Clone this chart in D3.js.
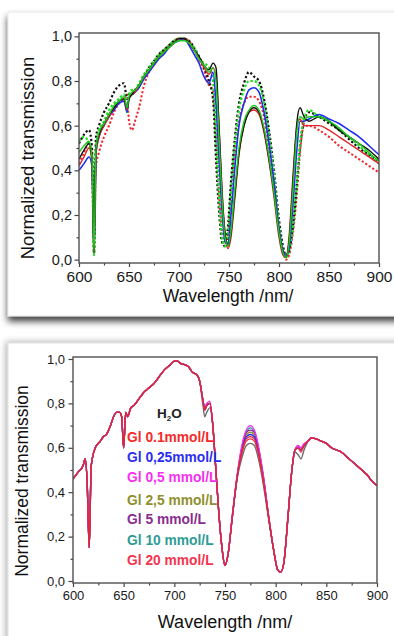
<!DOCTYPE html>
<html>
<head>
<meta charset="utf-8">
<script src="https://cdn.jsdelivr.net/npm/d3@7"></script>
<style>
  body { margin: 0; background: #fff; }
  svg { display: block; font-family: "Liberation Sans", Arial, sans-serif; }
</style>
</head>
<body>
<svg id="chart" width="394" height="636"></svg>
<script>
// ---- axis ticks ----
const xTicks = [600, 650, 700, 750, 800, 850, 900];
const xMinorTicks = [625, 675, 725, 775, 825, 875];
const yTicks = [0, 0.2, 0.4, 0.6, 0.8, 1.0];
const yTickLabels = ["0,0", "0,2", "0,4", "0,6", "0,8", "1,0"];
const yMinorTicks = [0.1, 0.3, 0.5, 0.7, 0.9];
const xTitle = "Wavelength /nm/";
const yTitle = "Normalized transmission";

// ---- upper panel: wavelengths (nm) and normalized transmission ----
const wlTop = [
  600, 605, 610, 613, 615, 617, 620, 625, 630, 635,
  640, 645, 648, 650, 653, 656, 660, 665, 670, 675,
  680, 685, 690, 695, 700, 705, 710, 715, 720, 725,
  730, 734, 737, 740, 743, 746, 749, 752, 756, 760,
  765, 770, 775, 780, 785, 790, 795, 800, 804, 807,
  810, 814, 818, 821, 825, 830, 840, 850, 860, 870,
  880, 890, 900
];
const topBlackSolid = [
  .45, .49, .52, .45, .03, .50, .56, .61, .65, .68,
  .71, .72, .68, .72, .74, .76, .78, .82, .85, .88,
  .91, .93, .95, .97, .99, .99, .97, .94, .91, .87,
  .85, .88, .86, .60, .30, .12, .06, .12, .30, .48,
  .60, .66, .68, .66, .58, .45, .30, .12, .03, .01,
  .08, .35, .62, .68, .64, .62, .64, .62, .58, .55,
  .52, .49, .45
];
const topBlackDotted = [
  .52, .56, .58, .50, .03, .55, .60, .66, .70, .75,
  .78, .79, .72, .74, .74, .76, .78, .82, .86, .89,
  .92, .94, .96, .98, .99, .99, .98, .95, .91, .86,
  .80, .72, .45, .22, .08, .06, .15, .35, .55, .70,
  .79, .84, .82, .80, .72, .58, .40, .18, .06, .02,
  .04, .15, .35, .50, .62, .66, .64, .61, .58, .54,
  .50, .47, .44
];
const topGreenDashed = [
  .53, .55, .52, .45, .02, .50, .58, .62, .67, .70,
  .72, .74, .66, .74, .76, .76, .79, .83, .86, .89,
  .92, .94, .96, .98, .99, .99, .97, .95, .90, .88,
  .86, .80, .55, .28, .10, .06, .12, .30, .52, .67,
  .76, .80, .80, .78, .70, .56, .38, .15, .04, .01,
  .04, .15, .35, .52, .63, .67, .64, .62, .58, .55,
  .51, .47, .43
];
const topBlueSolid = [
  .40, .43, .46, .42, .03, .48, .55, .60, .64, .67,
  .70, .71, .66, .72, .74, .75, .77, .81, .84, .87,
  .90, .92, .95, .97, .98, .99, .96, .92, .88, .82,
  .79, .84, .70, .45, .22, .08, .07, .20, .42, .60,
  .70, .76, .77, .75, .66, .52, .35, .14, .04, .02,
  .05, .25, .50, .62, .62, .63, .65, .63, .61, .58,
  .55, .51, .47
];
const topRedDotted = [
  .43, .48, .52, .47, .03, .42, .48, .55, .60, .66,
  .70, .72, .74, .62, .58, .62, .68, .78, .84, .88,
  .91, .94, .96, .98, .99, .99, .98, .94, .90, .85,
  .78, .76, .55, .30, .12, .06, .10, .28, .48, .62,
  .70, .73, .73, .71, .64, .50, .34, .14, .04, .00,
  .02, .12, .30, .48, .60, .60, .58, .55, .51, .48,
  .45, .42, .39
];
const topGreenSolid = [
  .48, .51, .53, .46, .02, .50, .57, .61, .65, .69,
  .71, .73, .68, .73, .75, .76, .78, .82, .85, .88,
  .91, .93, .95, .97, .98, .98, .97, .94, .90, .87,
  .84, .86, .80, .55, .28, .10, .06, .13, .32, .50,
  .62, .67, .69, .67, .59, .46, .30, .12, .03, .01,
  .07, .32, .58, .64, .63, .64, .64, .62, .59, .55,
  .52, .48, .44
];
const topRedSolid = [
  .42, .46, .50, .44, .03, .48, .55, .60, .64, .68,
  .71, .72, .67, .72, .74, .75, .78, .82, .85, .88,
  .91, .93, .95, .97, .99, .99, .97, .94, .90, .86,
  .83, .86, .82, .60, .32, .12, .05, .10, .28, .47,
  .60, .66, .67, .65, .57, .44, .28, .10, .02, .01,
  .10, .38, .60, .63, .60, .60, .60, .58, .55, .52,
  .49, .46, .43
];

// ---- lower panel: water and glucose solutions ----
const wlBottom = [
  600, 605, 610, 612, 614, 616, 618, 622, 627, 630,
  633, 637, 640, 643, 646, 648, 650, 652, 654, 657,
  660, 665, 670, 675, 680, 685, 690, 695, 700, 703,
  706, 710, 714, 718, 722, 725, 728, 730, 732, 735,
  738, 741, 744, 747, 750, 753, 757, 762, 767, 771,
  775, 779, 783, 788, 793, 798, 802, 805, 808, 812,
  816, 819, 822, 825, 828, 832, 835, 840, 845, 850,
  855, 860, 865, 870, 875, 880, 885, 890, 895, 900
];
const water = [
  .46, .49, .52, .55, .44, .15, .52, .60, .63, .65,
  .66, .70, .74, .76, .76, .74, .60, .76, .74, .78,
  .79, .82, .85, .87, .89, .92, .95, .97, .99, .99,
  .98, .975, .965, .94, .93, .90, .80, .74, .76, .78,
  .70, .50, .30, .15, .07, .12, .28, .46, .56, .61,
  .62, .61, .55, .43, .28, .14, .05, .04, .08, .28,
  .50, .58, .57, .55, .59, .63, .645, .64, .63, .62,
  .60, .59, .58, .56, .54, .52, .50, .48, .45, .43
];
const gl01 = [
  .46, .49, .52, .55, .44, .15, .52, .60, .63, .65,
  .66, .70, .74, .76, .76, .74, .60, .76, .74, .78,
  .79, .82, .85, .87, .89, .92, .95, .97, .99, .99,
  .98, .975, .965, .94, .93, .90, .82, .77, .79, .80,
  .70, .50, .30, .15, .07, .12, .28, .47, .59, .64,
  .65, .64, .58, .45, .29, .14, .05, .04, .08, .28,
  .50, .59, .60, .59, .61, .63, .645, .64, .63, .62,
  .60, .59, .58, .56, .54, .52, .50, .48, .45, .43
];
const gl025 = [
  .46, .49, .52, .55, .44, .15, .52, .60, .63, .65,
  .66, .70, .74, .76, .76, .74, .60, .76, .74, .78,
  .79, .82, .85, .87, .89, .92, .95, .97, .99, .99,
  .98, .975, .965, .94, .93, .90, .82, .78, .79, .80,
  .70, .50, .30, .15, .07, .12, .28, .47, .59, .65,
  .66, .65, .59, .46, .29, .14, .05, .04, .08, .28,
  .50, .59, .60, .59, .61, .63, .645, .64, .63, .62,
  .60, .59, .58, .56, .54, .52, .50, .48, .45, .43
];
const gl05 = [
  .46, .49, .52, .55, .44, .15, .52, .60, .63, .65,
  .66, .70, .74, .76, .76, .74, .60, .76, .74, .78,
  .79, .82, .85, .87, .89, .92, .95, .97, .99, .99,
  .98, .975, .965, .94, .93, .90, .82, .78, .80, .81,
  .70, .50, .30, .15, .07, .12, .29, .48, .62, .68,
  .70, .68, .61, .47, .30, .14, .05, .04, .08, .28,
  .50, .59, .61, .60, .62, .63, .645, .64, .63, .62,
  .60, .59, .58, .56, .54, .52, .50, .48, .45, .43
];
const gl25 = [
  .46, .49, .52, .55, .44, .15, .52, .60, .63, .65,
  .66, .70, .74, .76, .76, .74, .60, .76, .74, .78,
  .79, .82, .85, .87, .89, .92, .95, .97, .99, .99,
  .98, .975, .965, .94, .93, .90, .82, .77, .79, .80,
  .70, .50, .30, .15, .07, .12, .28, .47, .60, .66,
  .67, .66, .59, .46, .29, .14, .05, .04, .08, .28,
  .50, .59, .60, .59, .61, .63, .645, .64, .63, .62,
  .60, .59, .58, .56, .54, .52, .50, .48, .45, .43
];
const gl5 = [
  .46, .49, .52, .55, .44, .15, .52, .60, .63, .65,
  .66, .70, .74, .76, .76, .74, .60, .76, .74, .78,
  .79, .82, .85, .87, .89, .92, .95, .97, .99, .99,
  .98, .975, .965, .94, .93, .90, .82, .78, .79, .80,
  .70, .50, .30, .15, .07, .12, .28, .47, .61, .67,
  .68, .67, .60, .46, .29, .14, .05, .04, .08, .28,
  .50, .59, .61, .60, .61, .63, .645, .64, .63, .62,
  .60, .59, .58, .56, .54, .52, .50, .48, .45, .43
];
const gl10 = [
  .46, .49, .52, .55, .44, .15, .52, .60, .63, .65,
  .66, .70, .74, .76, .76, .74, .60, .76, .74, .78,
  .79, .82, .85, .87, .89, .92, .95, .97, .99, .99,
  .98, .975, .965, .94, .93, .90, .82, .78, .80, .80,
  .70, .50, .30, .15, .07, .12, .28, .47, .61, .67,
  .69, .67, .60, .47, .29, .14, .05, .04, .08, .28,
  .50, .59, .60, .59, .61, .63, .645, .64, .63, .62,
  .60, .59, .58, .56, .54, .52, .50, .48, .45, .43
];
const gl20 = [
  .46, .49, .52, .55, .44, .15, .52, .60, .63, .65,
  .66, .70, .74, .76, .76, .74, .60, .76, .74, .78,
  .79, .82, .85, .87, .89, .92, .95, .97, .99, .99,
  .98, .975, .965, .94, .93, .90, .82, .77, .79, .80,
  .70, .50, .30, .15, .07, .12, .28, .47, .58, .63,
  .64, .63, .57, .44, .29, .14, .05, .04, .08, .28,
  .50, .59, .60, .58, .61, .63, .645, .64, .63, .62,
  .60, .59, .58, .56, .54, .52, .50, .48, .45, .43
];
const legendLabels = [
  "Gl 0.1mmol/L", "Gl 0,25mmol/L", "Gl 0,5 mmol/L", "Gl 2,5 mmol/L",
  "Gl 5 mmol/L", "Gl 10 mmol/L", "Gl 20 mmol/L"
];
const legendColors = ["#f52a2a", "#2a2ef0", "#f530f0", "#8f8f2e", "#8a2c92", "#2e9c96", "#f5334f"];

const svg = d3.select("#chart");

// ---- cards with drop shadows ----
const defs = svg.append("defs");
const shadow1 = defs.append("filter").attr("id", "shadowTop")
  .attr("x", "-10%").attr("y", "-10%").attr("width", "130%").attr("height", "130%");
shadow1.append("feDropShadow").attr("dx", 0).attr("dy", 5).attr("stdDeviation", 3.5)
  .attr("flood-color", "#000").attr("flood-opacity", 0.75);
const shadow2 = defs.append("filter").attr("id", "shadowBottom")
  .attr("x", "-10%").attr("y", "-10%").attr("width", "130%").attr("height", "130%");
shadow2.append("feDropShadow").attr("dx", -2).attr("dy", -1).attr("stdDeviation", 3)
  .attr("flood-color", "#000").attr("flood-opacity", 0.3);

svg.append("rect").attr("x", 8).attr("y", 12).attr("width", 420).attr("height", 304)
  .attr("fill", "#fff").attr("stroke", "#e2e2e2").attr("stroke-width", 0.8)
  .attr("filter", "url(#shadowTop)");
svg.append("rect").attr("x", 8).attr("y", 343).attr("width", 420).attr("height", 320)
  .attr("fill", "#fff").attr("stroke", "#d8d8d8").attr("stroke-width", 0.8)
  .attr("filter", "url(#shadowBottom)");

function drawPanel(p) {
  const g = svg.append("g");
  const x = d3.scaleLinear().domain([600, 900]).range([p.left, p.right]);
  const y = d3.scaleLinear().domain(p.yDomain).range([p.bottom, p.top]);

  // spectra, clipped to the frame
  const clipId = "clip" + p.id;
  defs.append("clipPath").attr("id", clipId).append("rect")
    .attr("x", p.left).attr("y", p.top - 2)
    .attr("width", p.right - p.left).attr("height", p.bottom - p.top + 2);
  const lines = g.append("g").attr("clip-path", `url(#${clipId})`);
  p.series.forEach(s => {
    const line = d3.line()
      .x((d, i) => x(p.wl[i]))
      .y(d => y(d))
      .curve(d3.curveMonotoneX);
    lines.append("path")
      .attr("d", line(s.values))
      .attr("fill", "none")
      .attr("stroke", s.color)
      .attr("stroke-width", s.width)
      .attr("stroke-dasharray", s.dash || null)
      .attr("stroke-linejoin", "round");
  });

  // axes
  const xAxis = g.append("g").attr("transform", `translate(0,${p.bottom})`)
    .call(d3.axisBottom(x).tickValues(xTicks).tickSize(4).tickSizeOuter(0)
      .tickPadding(p.xPad).tickFormat(d3.format("d")));
  const xMinor = g.append("g").attr("transform", `translate(0,${p.bottom})`)
    .call(d3.axisBottom(x).tickValues(xMinorTicks).tickSize(2.5).tickSizeOuter(0).tickFormat(""));
  const yAxis = g.append("g").attr("transform", `translate(${p.left},0)`)
    .call(d3.axisLeft(y).tickValues(yTicks).tickSize(4.5).tickSizeOuter(0)
      .tickPadding(p.yPad).tickFormat((d, i) => yTickLabels[i]));
  const yMinor = g.append("g").attr("transform", `translate(${p.left},0)`)
    .call(d3.axisLeft(y).tickValues(yMinorTicks).tickSize(2.5).tickSizeOuter(0).tickFormat(""));
  [xAxis, xMinor, yAxis, yMinor].forEach(a => {
    a.select(".domain").remove();
    a.selectAll("line").attr("stroke", "#444").attr("stroke-width", 1.2);
  });
  xAxis.selectAll("text").attr("font-size", p.xTickSize).attr("fill", "#1a1a1a");
  yAxis.selectAll("text").attr("font-size", p.yTickSize).attr("fill", "#1a1a1a");

  // frame
  g.append("rect").attr("x", p.left).attr("y", p.top)
    .attr("width", p.right - p.left).attr("height", p.bottom - p.top)
    .attr("fill", "none").attr("stroke", "#505050").attr("stroke-width", 1.4);

  // titles
  g.append("text").attr("x", (p.left + p.right) / 2 + p.xTitleDx).attr("y", p.xTitleY)
    .attr("text-anchor", "middle").attr("font-size", p.xTitleSize).attr("fill", "#111")
    .text(xTitle);
  g.append("text")
    .attr("transform", `translate(${p.yTitleX},${p.yTitleY}) rotate(-90)`)
    .attr("text-anchor", "middle").attr("font-size", p.yTitleSize).attr("fill", "#111")
    .text(yTitle);
  return { g, x, y };
}

// upper panel
drawPanel({
  id: "Top", left: 79, right: 379, top: 33, bottom: 263,
  yDomain: [-0.015, 1.015], wl: wlTop,
  xPad: 3.5, yPad: 2.5, xTickSize: 15.5, yTickSize: 14.5,
  xTitleY: 302, xTitleDx: -1, xTitleSize: 17.5,
  yTitleX: 34, yTitleY: 158, yTitleSize: 18.5,
  series: [
    { values: topRedDotted, color: "#f0282c", width: 2, dash: "2.2,2" },
    { values: topBlackDotted, color: "#111", width: 2.2, dash: "2.2,2.2" },
    { values: topGreenDashed, color: "#22e022", width: 2.2, dash: "2.5,2" },
    { values: topBlueSolid, color: "#1f2ff0", width: 1.6 },
    { values: topRedSolid, color: "#e0242a", width: 1.4 },
    { values: topBlackSolid, color: "#111", width: 1.4 },
    { values: topGreenSolid, color: "#1fc81f", width: 1.4 }
  ]
});

// lower panel
const lower = drawPanel({
  id: "Bottom", left: 73, right: 377, top: 357, bottom: 583,
  yDomain: [-0.009, 1.009], wl: wlBottom,
  xPad: 4, yPad: 3.5, xTickSize: 13, yTickSize: 13,
  xTitleY: 628, xTitleDx: 0, xTitleSize: 18,
  yTitleX: 28, yTitleY: 481, yTitleSize: 17.5,
  series: [
    { values: water, color: "#6e6e6e", width: 1.4 },
    { values: gl10, color: "#2e9c96", width: 1.3 },
    { values: gl25, color: "#8f8f2e", width: 1.3 },
    { values: gl5, color: "#8a2c92", width: 1.3 },
    { values: gl025, color: "#2a2ef0", width: 1.3 },
    { values: gl05, color: "#f530f0", width: 1.3 },
    { values: gl20, color: "#f5334f", width: 1.3 },
    { values: gl01, color: "#d8283c", width: 1.3 }
  ]
});

// legend of the lower panel
const leg = lower.g.append("g");
const h2o = leg.append("text").attr("x", 157).attr("y", 418)
  .attr("font-size", 13.5).attr("font-weight", "bold").attr("fill", "#222");
h2o.append("tspan").text("H");
h2o.append("tspan").attr("dy", 3).attr("font-size", 8).text("2");
h2o.append("tspan").attr("dy", -3).text("O");
const rowY = [437, 457, 477, 500, 519, 540, 560];
legendLabels.forEach((t, i) => {
  leg.append("text").attr("x", 127).attr("y", rowY[i] + 5)
    .attr("font-size", 13.8).attr("font-weight", "bold")
    .attr("fill", legendColors[i]).text(t);
});
</script>
</body>
</html>
